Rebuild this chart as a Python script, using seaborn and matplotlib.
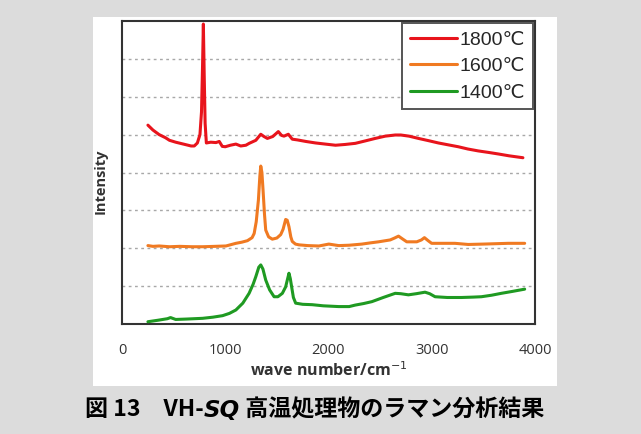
import matplotlib
matplotlib.use("Agg")
import matplotlib.pyplot as plt
import matplotlib.patches as mpatches
import numpy as np
import pandas as pd
import seaborn as sns

# Raman spectra (offset stacked), wavenumber in cm^-1
wn_1800 = [251, 300, 360, 420, 460, 520, 580, 640, 669, 700, 730, 755, 770, 780, 788, 796, 805,
           817, 860, 910, 942, 971, 1000, 1050, 1103, 1150, 1200, 1232, 1296, 1344, 1375, 1408,
           1460, 1514, 1545, 1569, 1611, 1649, 1700, 1780, 1875, 1970, 2068, 2160, 2260, 2350,
           2453, 2550, 2646, 2700, 2780, 2871, 2970, 3064, 3160, 3257, 3350, 3450, 3550, 3643,
           3750, 3883]
int_1800 = [5.25, 5.12, 5.0, 4.92, 4.85, 4.8, 4.76, 4.72, 4.70, 4.70, 4.78, 5.0, 5.6, 6.8, 7.92,
            6.6, 5.3, 4.78, 4.8, 4.79, 4.82, 4.69, 4.68, 4.72, 4.75, 4.70, 4.72, 4.77, 4.85, 5.01,
            4.95, 4.9, 4.95, 5.08, 4.98, 4.96, 5.01, 4.88, 4.86, 4.82, 4.78, 4.75, 4.72, 4.74,
            4.77, 4.83, 4.9, 4.96, 4.99, 4.99, 4.96, 4.9, 4.84, 4.78, 4.73, 4.68, 4.62, 4.57,
            4.53, 4.49, 4.44, 4.39]

wn_1600 = [251, 300, 360, 460, 560, 680, 781, 900, 1007, 1103, 1160, 1215, 1260, 1280, 1300, 1321,
           1335, 1344, 1355, 1366, 1380, 1392, 1420, 1456, 1500, 1537, 1560, 1585, 1600, 1617,
           1635, 1649, 1680, 1714, 1800, 1907, 2003, 2099, 2200, 2324, 2400, 2485, 2598, 2640,
           2678, 2720, 2758, 2855, 2900, 2929, 2965, 2999, 3100, 3225, 3353, 3500, 3620, 3739,
           3800, 3900]
int_1600 = [2.07, 2.05, 2.06, 2.04, 2.05, 2.04, 2.04, 2.05, 2.06, 2.13, 2.16, 2.20, 2.28, 2.39,
            2.7, 3.27, 3.9, 4.17, 4.0, 3.54, 2.9, 2.48, 2.3, 2.24, 2.27, 2.36, 2.5, 2.76, 2.74,
            2.57, 2.3, 2.18, 2.11, 2.09, 2.07, 2.06, 2.11, 2.07, 2.08, 2.11, 2.14, 2.17, 2.22,
            2.27, 2.32, 2.24, 2.17, 2.17, 2.22, 2.28, 2.2, 2.13, 2.13, 2.13, 2.10, 2.11, 2.12,
            2.13, 2.13, 2.13]

wn_1400 = [251, 350, 440, 470, 490, 520, 620, 781, 880, 974, 1040, 1103, 1170, 1231, 1270, 1296,
           1325, 1344, 1365, 1392, 1430, 1473, 1510, 1553, 1585, 1601, 1617, 1630, 1643, 1660,
           1682, 1750, 1842, 1950, 2099, 2200, 2260, 2340, 2420, 2530, 2646, 2700, 2774, 2850,
           2935, 2980, 3032, 3150, 3288, 3400, 3481, 3580, 3674, 3780, 3900]
int_1400 = [0.06, 0.10, 0.14, 0.17, 0.15, 0.12, 0.13, 0.15, 0.18, 0.22, 0.28, 0.37, 0.55, 0.81,
            1.05, 1.25, 1.5, 1.56, 1.45, 1.16, 0.9, 0.72, 0.72, 0.81, 0.98, 1.16, 1.34, 1.2, 0.98,
            0.7, 0.55, 0.52, 0.51, 0.48, 0.46, 0.46, 0.5, 0.54, 0.59, 0.7, 0.81, 0.80, 0.77, 0.8,
            0.84, 0.8, 0.72, 0.7, 0.7, 0.71, 0.72, 0.76, 0.81, 0.86, 0.92]

labels = ["1800\u2103", "1600\u2103", "1400\u2103"]
colors = ["#e8141c", "#f07a22", "#1f9a22"]
x_ticks = [0, 1000, 2000, 3000, 4000]
grid_levels = [1, 2, 3, 4, 5, 6, 7]

df = pd.concat([
    pd.DataFrame({"wn": wn_1800, "I": int_1800, "T": labels[0]}),
    pd.DataFrame({"wn": wn_1600, "I": int_1600, "T": labels[1]}),
    pd.DataFrame({"wn": wn_1400, "I": int_1400, "T": labels[2]}),
], ignore_index=True)

sns.set_theme(style="white")
plt.rcParams["font.family"] = ["Open Sans", "DejaVu Sans"]

W, H = 641, 434
fig = plt.figure(figsize=(W / 100, H / 100), dpi=100, facecolor="#dcdcdc")
panel = mpatches.Rectangle((93 / W, 1 - 386 / H), (557 - 93) / W, (386 - 17) / H,
                           transform=fig.transFigure, facecolor="white",
                           edgecolor="none", zorder=-10)
fig.add_artist(panel)

ax = fig.add_axes([122 / W, 1 - 324 / H, (535 - 122) / W, (324 - 21) / H], zorder=2)
ax.set_facecolor("white")

sns.lineplot(data=df, x="wn", y="I", hue="T", hue_order=labels,
             palette=dict(zip(labels, colors)), linewidth=2.2, sort=False,
             estimator=None, ax=ax, zorder=3)

ax.set_xlim(0, 4000)
ax.set_ylim(0, 8)
ax.set_xticks(x_ticks)
ax.set_yticks(grid_levels)
ax.set_yticklabels([])
ax.tick_params(axis="y", length=0)
ax.tick_params(axis="x", direction="in", length=4, width=1.2, color="#333333",
               labelsize=10.5, labelcolor="#333333", pad=14)
for lvl in grid_levels:
    ax.axhline(lvl, color="#a8a8a8", lw=1.0, ls=(0, (2, 2.5)), zorder=1)
for sp in ax.spines.values():
    sp.set_color("#333333")
    sp.set_linewidth(1.5)

ax.set_xlabel("wave number/cm$^{-1}$", fontsize=11.5, fontweight="bold", color="#333333",
              labelpad=2)
ax.set_ylabel("Intensity", fontsize=10.5, fontweight="bold", color="#333333")
ax.yaxis.set_label_coords(-0.035, 0.47)

leg = ax.legend(loc="upper right", bbox_to_anchor=(0.995, 0.992), borderaxespad=0,
                frameon=True, fancybox=False, framealpha=1, edgecolor="#555555",
                handlelength=2.4, handletextpad=0.15, borderpad=0.4, labelspacing=0.45,
                prop={"family": ["Liberation Sans", "DejaVu Sans"], "size": 14})
leg.get_frame().set_linewidth(1.4)
leg.set_zorder(5)
for line in leg.get_lines():
    line.set_linewidth(2.2)

# Caption with italic "SQ"
fig.canvas.draw()
renderer = fig.canvas.get_renderer()
cap_y = 1 - 410 / H
cap_font = ["Noto Sans CJK JP", "DejaVu Sans"]
parts = [("図 13\u3000VH-", dict(family=cap_font, weight="bold", style="normal")),
         ("SQ", dict(family=["DejaVu Sans"], weight="bold", style="oblique")),
         (" 高温処理物のラマン分析結果", dict(family=cap_font, weight="bold", style="normal"))]
x_cursor = 85 / W
for txt, kw in parts:
    t = fig.text(x_cursor, cap_y, txt, fontsize=16.6, color="black", va="center", ha="left",
                 **kw)
    bb = t.get_window_extent(renderer=renderer)
    x_cursor += bb.width / W

fig.savefig("out.png", dpi=100, facecolor=fig.get_facecolor())
